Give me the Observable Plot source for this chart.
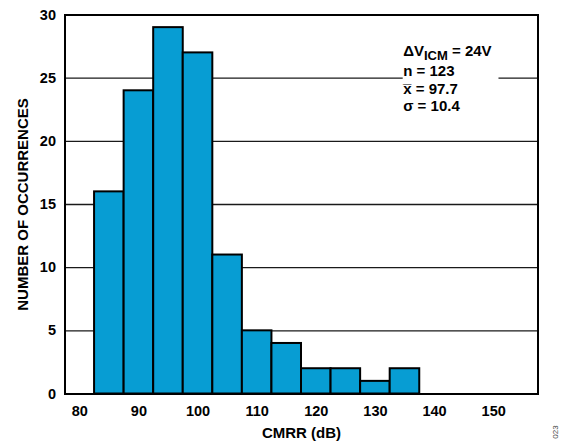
<!DOCTYPE html>
<html>
<head>
<meta charset="utf-8">
<script src="https://cdn.jsdelivr.net/npm/d3@7"></script>
<script src="https://cdn.jsdelivr.net/npm/@observablehq/plot@0.6"></script>
<style>
  html, body { margin: 0; padding: 0; background: #fff; }
  #chart { width: 564px; height: 448px; }
</style>
</head>
<body>
<div id="chart"></div>
<script>
// Histogram bins (CMRR, dB) and counts
const binStarts = [82.5, 87.5, 92.5, 97.5, 102.5, 107.5, 112.5, 117.5, 122.5, 127.5, 132.5];
const binWidth = 5;
const counts = [16, 24, 29, 27, 11, 5, 4, 2, 2, 1, 2];
const xTicks = [80, 90, 100, 110, 120, 130, 140, 150];
const yTicks = [0, 5, 10, 15, 20, 25, 30];
const gridValues = [5, 10, 15, 20, 25];
const statLines = ["n = 123", "x\u0305 = 97.7", "\u03C3 = 10.4"];
const titleMain = "\u0394V";
const titleSub = "ICM";
const titleRest = " = 24V";
const xLabel = "CMRR (dB)";
const yLabel = "NUMBER OF OCCURRENCES";
const figId = "023";

const bins = binStarts.map((s, i) => ({x1: s, x2: s + binWidth, y: counts[i]}));
const stats = statLines.map((t, i) => ({t, i}));

const FONT = "'Liberation Sans', Arial, Helvetica, sans-serif";
const statX = 134.7;
const titleY = 27.1;
const statY0 = 25.55;
const lineStep = 1.4;

const plot = Plot.plot({
  width: 564,
  height: 448,
  marginLeft: 64.5,
  marginRight: 26.5,
  marginTop: 14.5,
  marginBottom: 54.5,
  style: {fontFamily: FONT, fontSize: "14.5px", fontWeight: "bold", color: "#000", background: "#fff"},
  x: {domain: [77.5, 157.5], ticks: xTicks, tickSize: 0, tickPadding: 12, label: null, tickFormat: d => String(d)},
  y: {domain: [0, 30], ticks: yTicks, tickSize: 0, tickPadding: 9, label: null, tickFormat: d => String(d)},
  marks: [
    Plot.ruleY(gridValues, {stroke: "#1a1a1a", strokeWidth: 1.3}),
    Plot.rect([{}], {x1: statX, x2: 150.9, y1: 24.6, y2: 25.4, fill: "#fff"}),
    Plot.rectY(bins, {x1: "x1", x2: "x2", y: "y", fill: "#079dd3", stroke: "#000", strokeWidth: 2}),
    Plot.frame({stroke: "#000", strokeWidth: 2}),
    Plot.text([titleMain], {x: statX, y: titleY, textAnchor: "start", fontSize: 15, fontWeight: "bold", fill: "#000"}),
    Plot.text(stats, {x: statX, y: d => statY0 - d.i * lineStep, text: "t", textAnchor: "start", fontSize: 15, fontWeight: "bold", fill: "#000"}),
    Plot.text([xLabel], {frameAnchor: "bottom", dy: 44, fontSize: 15, fontWeight: "bold", fill: "#000"}),
    Plot.text([yLabel], {frameAnchor: "left", dx: -42, rotate: -90, textAnchor: "middle", fontSize: 15, fontWeight: "bold", fill: "#000"})
  ]
});

// Add subscript to the first stat line
const svg = d3.select(plot);
svg.selectAll("text").filter(function() { return this.textContent === titleMain; }).each(function() {
  const tt = d3.select(this);
  tt.text(null);
  tt.append("tspan").text(titleMain);
  tt.append("tspan").attr("dy", "0.3em").attr("font-size", "13px").text(titleSub);
  tt.append("tspan").attr("dy", "-0.3em").text(titleRest);
});
// figure id at right edge
svg.append("text")
  .attr("transform", "translate(558,432) rotate(-90)")
  .attr("font-size", "8px")
  .attr("font-weight", "normal")
  .attr("fill", "#444")
  .attr("text-anchor", "middle")
  .text(figId);

document.getElementById("chart").appendChild(plot);
</script>
</body>
</html>
